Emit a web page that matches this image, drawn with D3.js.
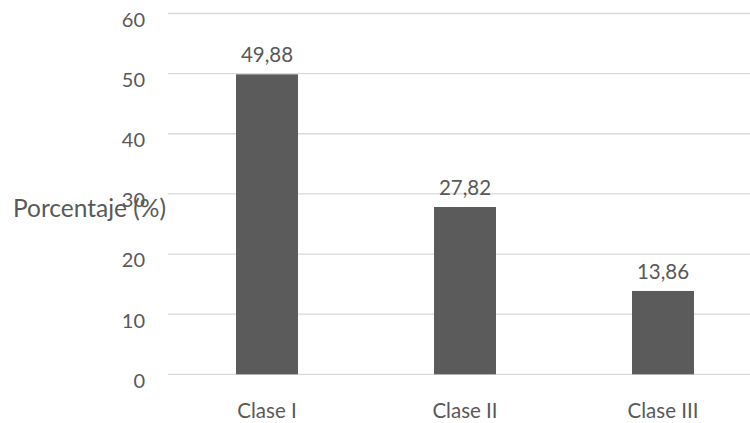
<!DOCTYPE html>
<html>
<head>
<meta charset="utf-8">
<script src="https://cdn.jsdelivr.net/npm/d3@7"></script>
<style>
  html, body { margin: 0; padding: 0; background: #fff; }
  svg text { font-family: Lato, "Open Sans", sans-serif; fill: #595959; }
</style>
</head>
<body>
<svg id="chart" width="750" height="423"></svg>
<script>
// Distribución por clase (%)
const categories = ["Clase I", "Clase II", "Clase III"];
const values = [49.88, 27.82, 13.86];
const yTicks = [0, 10, 20, 30, 40, 50, 60];
const yTitle = "Porcentaje (%)";

const svg = d3.select("#chart");
const fmt = v => d3.format(".2f")(v).replace(".", ",");

const x = d3.scaleBand()
  .domain(categories)
  .range([168, 762])
  .paddingInner(0.687)
  .paddingOuter(0.3435);

const y = d3.scaleLinear()
  .domain([0, 60])
  .range([374.3, 13.5]);

// horizontal gridlines
svg.append("g")
  .selectAll("line")
  .data(yTicks)
  .join("line")
  .attr("x1", 168).attr("x2", 762)
  .attr("y1", d => y(d)).attr("y2", d => y(d))
  .attr("stroke", "#d9d9d9")
  .attr("stroke-width", 1.3);

// y axis tick labels (sit slightly below their gridlines)
const yAxis = d3.axisLeft(y).tickValues(yTicks).tickSize(0).tickPadding(0);
const gy = svg.append("g").attr("transform", "translate(145,6.5)").call(yAxis);
gy.select(".domain").remove();
gy.selectAll("text")
  .attr("font-size", 20)
  .attr("font-family", "Lato, 'Open Sans', sans-serif")
  .attr("fill", "#595959");

// bars
svg.append("g")
  .selectAll("rect")
  .data(values)
  .join("rect")
  .attr("x", (d, i) => x(categories[i]))
  .attr("width", x.bandwidth())
  .attr("y", d => y(d))
  .attr("height", d => y(0) - y(d))
  .attr("fill", "#5b5b5b");

// value labels
svg.append("g")
  .selectAll("text")
  .data(values)
  .join("text")
  .attr("x", (d, i) => x(categories[i]) + x.bandwidth() / 2)
  .attr("y", d => y(d) - 12)
  .attr("text-anchor", "middle")
  .attr("font-size", 20.5)
  .text(d => fmt(d));

// category labels
svg.append("g")
  .selectAll("text")
  .data(categories)
  .join("text")
  .attr("x", d => x(d) + x.bandwidth() / 2)
  .attr("y", 418)
  .attr("text-anchor", "middle")
  .attr("font-size", 20.5)
  .text(d => d);

// y axis title
svg.append("text")
  .attr("x", 13)
  .attr("y", 216.5)
  .attr("font-size", 24.5)
  .text(yTitle);
</script>
</body>
</html>
